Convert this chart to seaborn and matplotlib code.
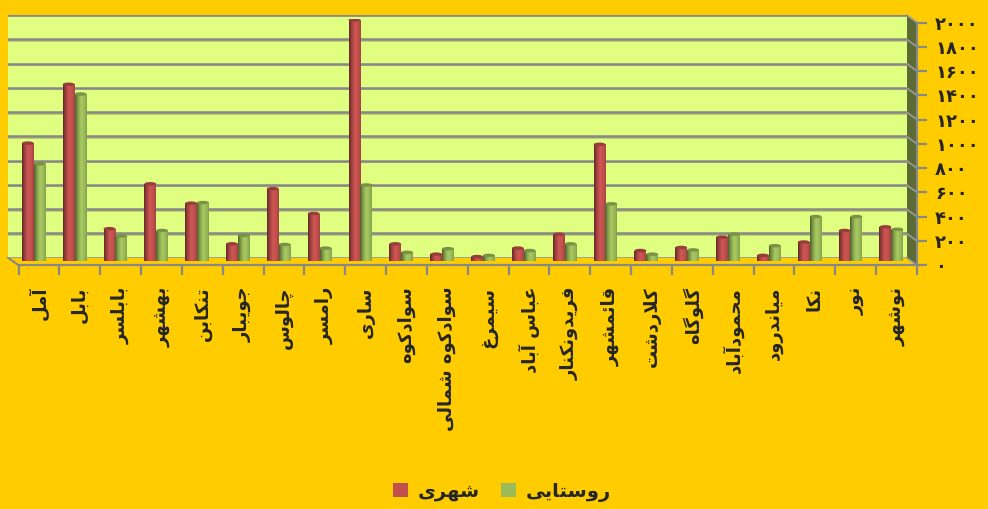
import numpy as np
import pandas as pd
import matplotlib
matplotlib.use("Agg")
import matplotlib.pyplot as plt
import seaborn as sns
from matplotlib.patches import Polygon, Ellipse

# --- data ---
cities = ["آمل", "بابل", "بابلسر", "بهشهر", "تنکابن", "جویبار", "چالوس", "رامسر",
          "ساری", "سوادکوه", "سوادکوه شمالی", "سیمرغ", "عباس آباد", "فریدونکنار",
          "قائمشهر", "کلاردشت", "گلوگاه", "محمودآباد", "میاندرود", "نکا", "نور", "نوشهر"]
urban = [975, 1460, 270, 640, 480, 145, 600, 395,
         1990, 145, 60, 40, 110, 225,
         965, 90, 115, 200, 50, 160, 255, 285]
rural = [805, 1380, 210, 255, 485, 215, 140, 110,
         630, 75, 105, 50, 90, 145,
         475, 60, 95, 225, 130, 370, 370, 265]
series_names = ["شهری", "روستایی"]
y_ticks = [0, 200, 400, 600, 800, 1000, 1200, 1400, 1600, 1800, 2000]
y_tick_labels = ["۰", "۲۰۰", "۴۰۰", "۶۰۰", "۸۰۰", "۱۰۰۰",
                 "۱۲۰۰", "۱۴۰۰", "۱۶۰۰", "۱۸۰۰", "۲۰۰۰"]
y_max = 2000

# --- minimal Persian shaping (matplotlib has no bidi / joining) ---
FORMS = {
    "\u0622": ("\uFE81", "\uFE82", None, None),
    "\u0627": ("\uFE8D", "\uFE8E", None, None),
    "\u0628": ("\uFE8F", "\uFE90", "\uFE91", "\uFE92"),
    "\u062A": ("\uFE95", "\uFE96", "\uFE97", "\uFE98"),
    "\u062C": ("\uFE9D", "\uFE9E", "\uFE9F", "\uFEA0"),
    "\u0686": ("\uFB7A", "\uFB7B", "\uFB7C", "\uFB7D"),
    "\u062D": ("\uFEA1", "\uFEA2", "\uFEA3", "\uFEA4"),
    "\u062F": ("\uFEA9", "\uFEAA", None, None),
    "\u0631": ("\uFEAD", "\uFEAE", None, None),
    "\u0633": ("\uFEB1", "\uFEB2", "\uFEB3", "\uFEB4"),
    "\u0634": ("\uFEB5", "\uFEB6", "\uFEB7", "\uFEB8"),
    "\u0639": ("\uFEC9", "\uFECA", "\uFECB", "\uFECC"),
    "\u063A": ("\uFECD", "\uFECE", "\uFECF", "\uFED0"),
    "\u0641": ("\uFED1", "\uFED2", "\uFED3", "\uFED4"),
    "\u0642": ("\uFED5", "\uFED6", "\uFED7", "\uFED8"),
    "\u06A9": ("\uFB8E", "\uFB8F", "\uFB90", "\uFB91"),
    "\u06AF": ("\uFB92", "\uFB93", "\uFB94", "\uFB95"),
    "\u0644": ("\uFEDD", "\uFEDE", "\uFEDF", "\uFEE0"),
    "\u0645": ("\uFEE1", "\uFEE2", "\uFEE3", "\uFEE4"),
    "\u0646": ("\uFEE5", "\uFEE6", "\uFEE7", "\uFEE8"),
    "\u0647": ("\uFEE9", "\uFEEA", "\uFEEB", "\uFEEC"),
    "\u0648": ("\uFEED", "\uFEEE", None, None),
    "\u06CC": ("\uFBFC", "\uFBFD", "\uFBFE", "\uFBFF"),
    "\u0626": ("\uFE89", "\uFE8A", "\uFE8B", "\uFE8C"),
}


def joins_next(c):
    f = FORMS.get(c)
    return f is not None and f[2] is not None


def shape(text):
    out = []
    i = 0
    while i < len(text):
        c = text[i]
        prev_join = i > 0 and joins_next(text[i - 1])
        if c == "\u0644" and i + 1 < len(text) and text[i + 1] == "\u0627":
            out.append("\uFEFC" if prev_join else "\uFEFB")
            i += 2
            continue
        f = FORMS.get(c)
        if f is None:
            out.append(c)
        else:
            next_ok = i + 1 < len(text) and text[i + 1] in FORMS
            if f[2] is not None and next_ok:
                out.append(f[3] if prev_join else f[2])
            else:
                out.append(f[1] if prev_join else f[0])
        i += 1
    return "".join(reversed(out))


# --- long table for seaborn ---
df = pd.DataFrame({
    "city": [shape(c) for c in cities] * 2,
    "value": urban + rural,
    "series": [shape(series_names[0])] * len(cities) + [shape(series_names[1])] * len(cities),
})

BG = "#FFCC00"
WALL = "#E0FF80"
SIDE = "#5B6B33"
GRID = "#888888"
RED = "#C0504D"
GREEN = "#9BBB59"

sns.set_theme(style="white")
plt.rcParams["font.family"] = ["DejaVu Sans"]

W, H = 988, 509
fig = plt.figure(figsize=(W / 100, H / 100), dpi=100, facecolor=BG)


def px_axes(x0, y0, x1, y1, z):
    ax = fig.add_axes([x0 / W, 1 - y1 / H, (x1 - x0) / W, (y1 - y0) / H], zorder=z)
    return ax


# decoration layer in pixel coords (side wall, floor edge)
deco = px_axes(0, 0, W, H, 0)
deco.set_xlim(0, W)
deco.set_ylim(H, 0)
deco.axis("off")
back_l, back_r, back_t, back_b = 8, 906.5, 15, 257.7
dx, dy = 10.5, 7.5
deco.add_patch(Polygon([(back_r, back_t), (back_r + dx, back_t + dy),
                        (back_r + dx, back_b + dy), (back_r, back_b)],
                       closed=True, facecolor=SIDE, edgecolor="none"))
for v in y_ticks:
    yy = back_b - (back_b - back_t) * v / y_max
    deco.plot([back_r, back_r + dx], [yy, yy + dy], color="#9A9A9A", lw=1.3)
deco.plot([back_l, back_l + dx], [back_b, back_b + dy], color=GRID, lw=1.5)

# back wall with gridlines
wall = px_axes(back_l, back_t, back_r, back_b, 1)
wall.set_facecolor(WALL)
wall.set_xlim(0, 1)
wall.set_ylim(0, y_max)
for v in y_ticks:
    wall.axhline(v - 12, color="#B5C96A", lw=1.2)
    wall.axhline(v, color=GRID, lw=1.8)
wall.set_xticks([])
wall.set_yticks([])
for s in wall.spines.values():
    s.set_visible(False)

# bars (mid depth)
bar_ax = px_axes(back_l + dx / 2, back_t + dy / 2, back_r + dx / 2, back_b + dy / 2, 2)
bar_ax.patch.set_alpha(0)
sns.barplot(data=df, x="city", y="value", hue="series", palette=[RED, GREEN],
            width=0.58, ax=bar_ax, saturation=1, linewidth=0, edgecolor="none")

# cylinder-like shading on each bar, with an elliptical top
cap_h = y_max * 3.5 / 242
for p in list(bar_ax.patches):
    h = p.get_height()
    if h <= 0:
        continue
    base = np.array(matplotlib.colors.to_rgb(p.get_facecolor()))
    t = np.linspace(0, 1, 40)
    fac = np.interp(t, [0, 0.2, 0.5, 0.8, 1], [0.5, 0.8, 1.08, 1.0, 0.85])
    grad = np.clip(base[None, :] * fac[:, None], 0, 1)[None, :, :]
    x0 = p.get_x()
    w = p.get_width()
    im = bar_ax.imshow(grad, extent=[x0, x0 + w, 0, h], aspect="auto",
                       zorder=p.get_zorder() + 0.1, interpolation="bilinear")
    im.set_clip_path(p)
    bar_ax.add_patch(Ellipse((x0 + w / 2, h), w, cap_h, facecolor=base * 0.78,
                             edgecolor="none", zorder=p.get_zorder() + 0.2))

bar_ax.set_xlim(-0.5, len(cities) - 0.5)
bar_ax.set_ylim(0, y_max)
bar_ax.axis("off")

sns.move_legend(bar_ax, loc="center", bbox_to_anchor=(502 / W, 1 - 492 / H),
                bbox_transform=fig.transFigure, ncol=2, frameon=False, title=None,
                handlelength=0.75, handleheight=0.75, handletextpad=0.5,
                columnspacing=1.1, prop={"weight": "bold", "size": 14})

# front axis frame: category ticks/labels at bottom, values on the right
front = px_axes(back_l + dx, back_t + dy, back_r + dx, back_b + dy, 3)
front.patch.set_alpha(0)
front.set_xlim(-0.5, len(cities) - 0.5)
front.set_ylim(0, y_max)
for s in ["top", "left"]:
    front.spines[s].set_visible(False)
for s in ["bottom", "right"]:
    front.spines[s].set_color(GRID)
    front.spines[s].set_linewidth(1.6)
front.set_xticks(np.arange(len(cities) + 1) - 0.5)
front.set_xticklabels([])
front.set_xticks(np.arange(len(cities)), minor=True)
front.set_xticklabels([shape(c) for c in cities], minor=True, rotation=90,
                      fontsize=13, fontweight="bold", va="top")
front.tick_params(axis="x", which="major", direction="out", length=7, width=1.6,
                  color=GRID, bottom=True)
front.tick_params(axis="x", which="minor", length=0, pad=15.5)
front.yaxis.tick_right()
front.set_yticks(y_ticks)
front.set_yticklabels(y_tick_labels, fontsize=13, fontweight="bold")
front.tick_params(axis="y", direction="out", length=7, width=1.6, color=GRID, pad=6,
                  right=True, left=False)
front.set_xlabel("")
front.set_ylabel("")

fig.savefig("out.png", dpi=100, facecolor=BG)
